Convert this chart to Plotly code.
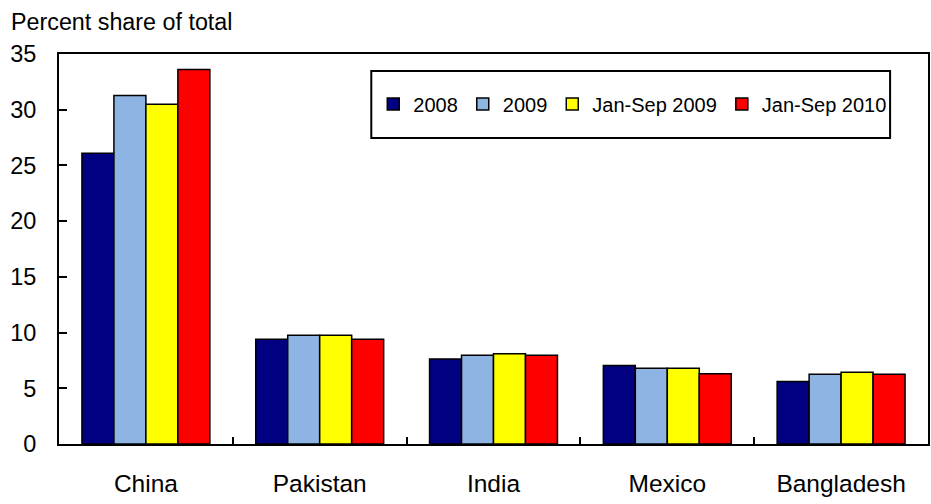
import plotly.graph_objects as go

categories = ["China", "Pakistan", "India", "Mexico", "Bangladesh"]
series_names = ["2008", "2009", "Jan-Sep 2009", "Jan-Sep 2010"]
v2008 = [26.1, 9.4, 7.63, 7.05, 5.6]
v2009 = [31.27, 9.76, 7.96, 6.8, 6.27]
vjs2009 = [30.5, 9.76, 8.1, 6.8, 6.45]
vjs2010 = [33.6, 9.4, 7.96, 6.3, 6.27]
colors = ["#000080", "#8EB4E3", "#FFFF00", "#FF0000"]
y_ticks = [0, 5, 10, 15, 20, 25, 30, 35]

FONT = "Liberation Sans, Arial, sans-serif"

fig = go.Figure()
for name, vals, col in zip(series_names, [v2008, v2009, vjs2009, vjs2010], colors):
    fig.add_trace(go.Bar(
        name=name, x=categories, y=vals,
        marker=dict(color=col, line=dict(color="black", width=1.5)),
    ))

W, H = 931, 504
L, R, T, B = 59, 1, 54, 60
pw = W - L - R
ph = H - T - B

def px_x(x):
    return (x - L) / pw

def px_y(y):
    return 1 - (y - T) / ph

fig.update_layout(
    width=W, height=H,
    margin=dict(l=L, r=R, t=T, b=B, pad=0),
    paper_bgcolor="white", plot_bgcolor="white",
    barmode="group", bargap=0.264, bargroupgap=0,
    font=dict(family=FONT, size=22, color="black"),
    showlegend=True,
    legend=dict(
        orientation="h",
        x=px_x(374), y=px_y(104), xanchor="left", yanchor="middle",
        bgcolor="rgba(0,0,0,0)", borderwidth=0,
        font=dict(family=FONT, size=20, color="black"),
        itemwidth=30, traceorder="normal",
    ),
    xaxis=dict(
        type="category", tickson="boundaries",
        ticks="inside", ticklen=7, tickwidth=1.5, tickcolor="black",
        showline=True, linecolor="black", linewidth=2, mirror=True,
        showgrid=False, ticklabelstandoff=17,
        tickfont=dict(family=FONT, size=24.5, color="black"),
    ),
    yaxis=dict(
        range=[0, 35], tickvals=y_ticks,
        ticks="inside", ticklen=8, tickwidth=1.5, tickcolor="black",
        showline=True, linecolor="black", linewidth=2, mirror=True,
        showgrid=False, zeroline=False, ticklabelstandoff=16,
        tickfont=dict(family=FONT, size=23.5, color="black"),
    ),
    shapes=[dict(
        type="rect", xref="paper", yref="paper",
        x0=px_x(372), x1=px_x(892), y0=px_y(138), y1=px_y(71),
        line=dict(color="black", width=2), fillcolor="rgba(0,0,0,0)",
    )],
    annotations=[dict(
        text="Percent share of total", xref="paper", yref="paper",
        x=px_x(9), y=px_y(22), xanchor="left", yanchor="middle",
        showarrow=False, font=dict(family=FONT, size=23.3, color="black"),
    )],
)

fig.write_html("out.html")
